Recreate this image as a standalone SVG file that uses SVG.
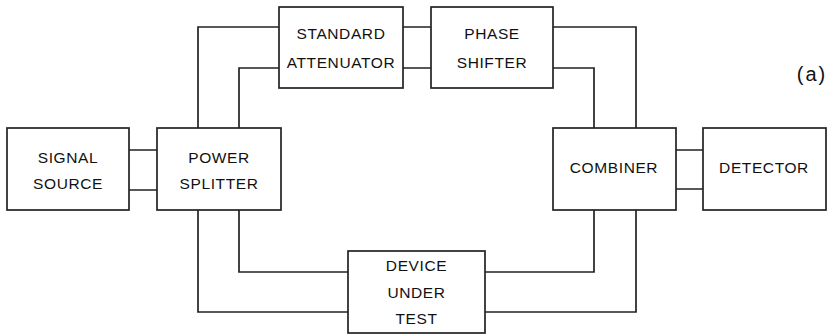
<svg xmlns="http://www.w3.org/2000/svg" width="831" height="335" viewBox="0 0 831 335">
<style>
.box{fill:#fff;stroke:#222;stroke-width:1.7}
.ln{fill:none;stroke:#222;stroke-width:1.7}
text{font-family:"Liberation Sans",Arial,sans-serif;font-size:15.5px;fill:#111;text-anchor:middle;letter-spacing:0.6px}
</style>
<rect width="831" height="335" fill="#fff"/>
<g id="connectors">
<path class="ln" d="M129,150H157M129,190H157"/>
<path class="ln" d="M198,128V27H279M239,128V68H279"/>
<path class="ln" d="M403,27H431M403,68H431"/>
<path class="ln" d="M553,27H636V128M553,68H594V128"/>
<path class="ln" d="M676,150H703M676,189H703"/>
<path class="ln" d="M239,210V272H348M198,210V312H348"/>
<path class="ln" d="M485,272H594V210M485,312H636V210"/>
</g>
<g id="signal-source"><rect class="box" x="7" y="128" width="122" height="82"/><text x="68" y="163">SIGNAL</text><text x="68" y="189">SOURCE</text></g>
<g id="power-splitter"><rect class="box" x="157" y="128" width="124" height="82"/><text x="219" y="163">POWER</text><text x="219" y="189">SPLITTER</text></g>
<g id="standard-attenuator"><rect class="box" x="279" y="7" width="124" height="81"/><text x="341" y="39">STANDARD</text><text x="341" y="68">ATTENUATOR</text></g>
<g id="phase-shifter"><rect class="box" x="431" y="7" width="122" height="81"/><text x="492" y="39">PHASE</text><text x="492" y="68">SHIFTER</text></g>
<g id="combiner"><rect class="box" x="553" y="128" width="123" height="82"/><text x="614" y="173">COMBINER</text></g>
<g id="detector"><rect class="box" x="703" y="128" width="123" height="82"/><text x="764" y="173">DETECTOR</text></g>
<g id="device-under-test"><rect class="box" x="348" y="251" width="137" height="82"/><text x="416.5" y="271">DEVICE</text><text x="416.5" y="298">UNDER</text><text x="416.5" y="324">TEST</text></g>
<text x="812" y="81" style="font-size:20px;letter-spacing:2px">(a)</text>
</svg>
